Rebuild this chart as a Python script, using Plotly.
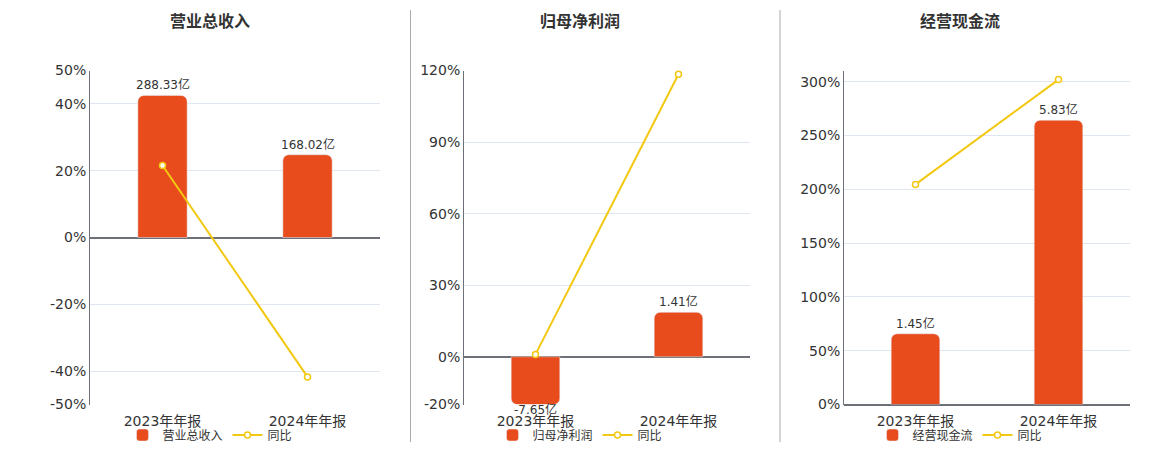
import plotly.graph_objects as go

# === data ===
periods = ["2023年年报", "2024年年报"]
titles = ["营业总收入", "归母净利润", "经营现金流"]
revenue = [288.33, 168.02]          # 亿
revenue_yoy = [21.56, -41.73]       # %
net_profit = [-7.65, 1.41]
net_profit_yoy = [1.0, 118.43]
cash_flow = [1.45, 5.83]
cash_flow_yoy = [204.6, 302.07]

amounts = [revenue, net_profit, cash_flow]
yoys = [revenue_yoy, net_profit_yoy, cash_flow_yoy]

# axis scales for each panel
yoy_ranges = [[-50, 50], [-20, 120], [0, 310.5]]
yoy_ticks = [[-50, -40, -20, 0, 20, 40, 50],
             [-20, 0, 30, 60, 90, 120],
             [0, 50, 100, 150, 200, 250, 300, 310.5]]
amount_ranges = [[-339, 339], [-1.513, 9.08], [0, 6.85]]

BAR = "#E84C1D"
LINE = "#F2C811"
TXT = "#333333"
AXIS = "#6E7079"
GRID = "#E0E6F1"
FONT = "DejaVu Sans, Noto Sans CJK SC, sans-serif"

# figure fits inside the page's 8px body margin
OFF = 8
W, H = 1160 - 2 * OFF, 450 - 2 * OFF


def px(x):
    return (x - OFF) / W


def py(y):
    return 1 - (y - OFF) / H


x_domains = [[px(90), px(380)], [px(464), px(750)], [px(844), px(1130)]]
y_domain = [py(404.5), py(70.5)]
title_x = [210, 580, 960]
seps = [410.5, 780]

fig = go.Figure()
layout = {}
annotations = []

for i in range(3):
    n = i + 1
    xa = "x" if n == 1 else f"x{n}"
    yb = "y" if n == 1 else f"y{n}"       # bars (base axis, hidden)
    yl = f"y{n + 3}"                        # yoy line (overlay, visible)
    leg = "legend" if n == 1 else f"legend{n}"
    lo, hi = amount_ranges[i]

    # bars, clipped to the axis like the original chart
    shown = [min(max(v, lo), hi) for v in amounts[i]]
    fig.add_trace(go.Bar(
        x=periods, y=shown, xaxis=xa, yaxis=yb, name=titles[i],
        marker=dict(color=BAR, cornerradius=6), width=0.34,
        legend=leg, hoverinfo="skip"))
    fig.add_trace(go.Scatter(
        x=periods, y=yoys[i], xaxis=xa, yaxis=yl, name="同比",
        mode="lines+markers", line=dict(color=LINE, width=2),
        marker=dict(symbol="circle", size=6, color="white",
                    line=dict(color=LINE, width=1.5)),
        cliponaxis=False, legend=leg, hoverinfo="skip"))

    for p, v, s in zip(periods, amounts[i], shown):
        annotations.append(dict(
            x=p, y=s, xref=xa, yref=yb, text=f"{v:.2f}亿", showarrow=False,
            yanchor="bottom" if v >= 0 else "top", yshift=1 if v >= 0 else 5,
            font=dict(size=12, color=TXT, family=FONT)))

    layout[f"xaxis{n}" if n > 1 else "xaxis"] = dict(
        domain=x_domains[i], anchor=yb, type="category", automargin=False,
        showgrid=False, zeroline=False, showline=False, ticks="",
        ticklabelstandoff=6,
        tickfont=dict(size=14, color=TXT, family=FONT), fixedrange=True)
    layout[f"yaxis{n}" if n > 1 else "yaxis"] = dict(
        domain=y_domain, anchor=xa, range=amount_ranges[i], visible=False,
        showgrid=False, zeroline=False, fixedrange=True, automargin=False)
    tv = yoy_ticks[i]
    layout[f"yaxis{n + 3}"] = dict(
        domain=y_domain, anchor=xa, overlaying=yb, side="left",
        range=yoy_ranges[i], tickvals=tv, automargin=False,
        ticktext=[f"{t}%" if t == int(t) else "" for t in tv],
        showgrid=True, gridcolor=GRID, gridwidth=1,
        zeroline=True, zerolinecolor=AXIS, zerolinewidth=2,
        showline=True, linecolor=AXIS, linewidth=1, ticks="",
        tickfont=dict(size=14, color=TXT, family=FONT), fixedrange=True)
    layout[leg] = dict(
        orientation="h", x=px(title_x[i]), xanchor="center",
        y=py(435), yanchor="middle", itemwidth=30,
        font=dict(size=12, color=TXT, family=FONT),
        bgcolor="rgba(0,0,0,0)", traceorder="normal")

for k, t in enumerate(titles):
    annotations.append(dict(
        text=f"<b>{t}</b>", x=px(title_x[k]), y=py(22), xref="paper", yref="paper",
        xanchor="center", yanchor="middle", showarrow=False,
        font=dict(size=16, color=TXT, family=FONT)))

shapes = [
    dict(type="line", xref="paper", yref="paper", x0=px(s), x1=px(s),
         y0=py(10), y1=0, line=dict(color="#AAAAAA", width=1))
    for s in seps
]

fig.update_layout(
    **layout,
    annotations=annotations, shapes=shapes,
    width=W, height=H, margin=dict(l=0, r=0, t=0, b=0, autoexpand=False),
    paper_bgcolor="white", plot_bgcolor="white",
    barmode="overlay", font=dict(family=FONT, color=TXT),
)

fig.write_html("out.html", config={"displayModeBar": False})
